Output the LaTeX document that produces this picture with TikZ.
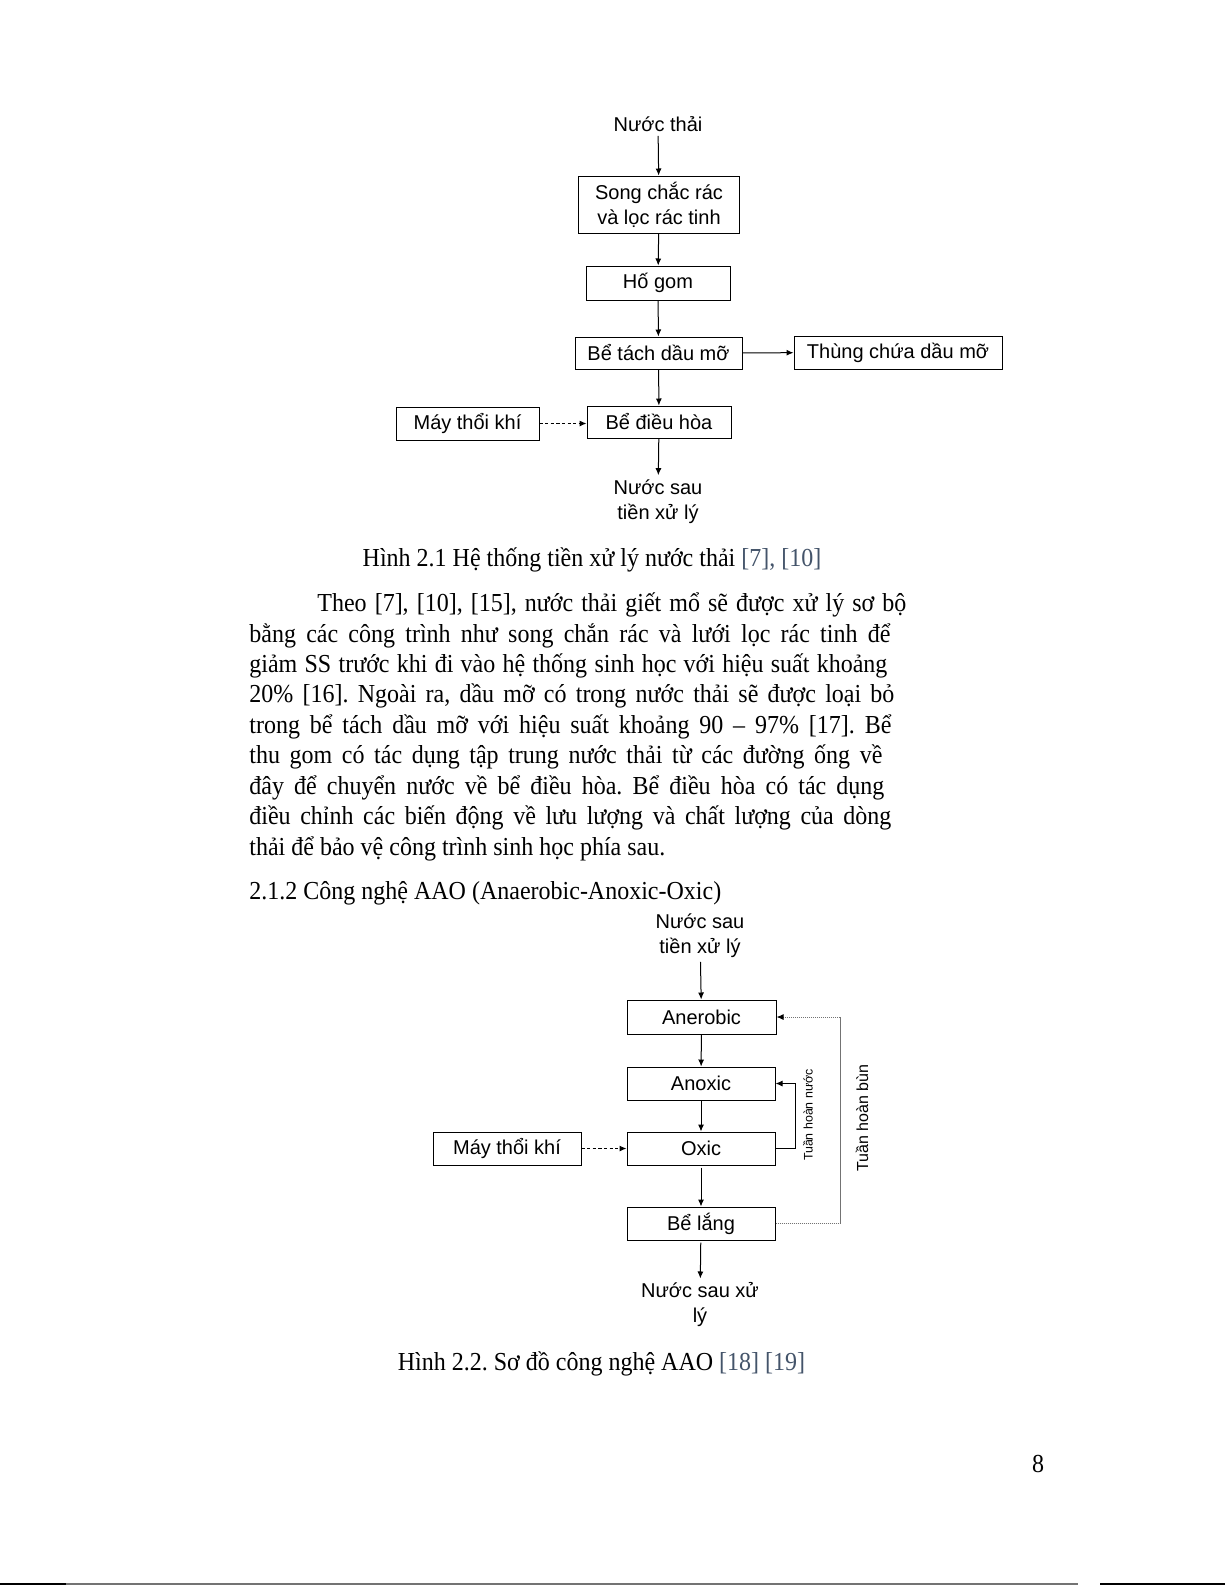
\documentclass[tikz,border=0pt]{standalone}
\usepackage{graphicx}
\usepackage{fontspec}
\setmainfont{Liberation Serif}
\newfontfamily\chartfont{Liberation Sans}
\usetikzlibrary{arrows.meta,positioning}
\frenchspacing

\definecolor{citeblue}{RGB}{68,84,106}
\newcommand\pagefont{\fontsize{12pt}{14pt}\selectfont}
\newcommand\boxfont{\chartfont\fontsize{10pt}{12.5pt}\selectfont}
\newcommand\tallrow[1]{\scalebox{1}[1.08]{#1}}

\tikzset{
    stage/.style={draw, line width=0.5pt, inner sep=0pt, font=\boxfont, align=center},
    flowtext/.style={font=\boxfont, align=center, inner sep=2pt},
    flow/.style={-{Latex[length=3.5pt,width=3pt]}, line width=0.5pt},
    airflow/.style={flow, dash pattern=on 1.6pt off 1.2pt},
    sludge/.style={-{Latex[length=3.5pt,width=3pt,color=black]}, line width=0.5pt, black!55, dash pattern=on 0.6pt off 0.4pt},
    loopnote/.style={font=\chartfont\fontsize{#1}{#1}\selectfont, rotate=90, inner sep=0pt},
    pageline/.style={font=\pagefont, inner sep=0pt, anchor=west}
}

\begin{document}
\begin{tikzpicture}[x=0.5pt, y=-0.5pt]
    \useasboundingbox[fill=white] (0,0) rectangle (1225,1585);

    % Hinh 2.1: pre-treatment
    \node[flowtext] (raw) at (658,124) {Nước thải};
    \node[stage, minimum width=80.5pt, minimum height=28.5pt] (screen) at (659,204.5) {Song chắc rác\\và lọc rác tinh};
    \node[stage, minimum width=72pt, minimum height=17pt] (pit) at (658,283) {Hố gom};
    \node[stage, minimum width=83.5pt, minimum height=16pt] (grease) at (658.5,353) {Bể tách dầu mỡ};
    \node[stage, minimum width=104pt, minimum height=16.5pt] (drum) at (898,352.5) {Thùng chứa dầu mỡ};
    \node[stage, minimum width=72pt, minimum height=16pt] (equal) at (659,422) {Bể điều hòa};
    \node[stage, minimum width=71.5pt, minimum height=16.5pt] (blowA) at (467.5,423.5) {Máy thổi khí};
    \node[flowtext] (preout) at (658,501.5) {Nước sau\\tiền xử lý};

    \draw[flow] (raw) -- (screen);
    \draw[flow] (screen) -- (pit);
    \draw[flow] (pit) -- (grease);
    \draw[flow] (grease) -- (drum);
    \draw[flow] (grease) -- (equal);
    \draw[airflow] (blowA) -- (blowA -| equal.west);
    \draw[flow] (equal) -- (preout);

    \node[font=\pagefont, inner sep=0pt] (cap1) at (592,560)
        {\tallrow{Hình 2.1 Hệ thống tiền xử lý nước thải \textcolor{citeblue}{[7], [10]}}};

    % Paragraph, one justified line each
    \node[pageline] (par1) at (317,605) {\tallrow{\makebox[294.5pt][s]{Theo [7], [10], [15], nước thải giết mổ sẽ được xử lý sơ bộ}}};
    \foreach \y/\w/\txt in {
        636/320.5/{bằng các công trình như song chắn rác và lưới lọc rác tinh để},
        666/319/{giảm SS trước khi đi vào hệ thống sinh học với hiệu suất khoảng},
        696/322.5/{20\% [16]. Ngoài ra, dầu mỡ có trong nước thải sẽ được loại bỏ},
        727/321/{trong bể tách dầu mỡ với hiệu suất khoảng 90 – 97\% [17]. Bể},
        757/316.5/{thu gom có tác dụng tập trung nước thải từ các đường ống về},
        788/317.5/{đây để chuyển nước về bể điều hòa. Bể điều hòa có tác dụng},
        818/321/{điều chỉnh các biến động về lưu lượng và chất lượng của dòng}}
    {
        \node[pageline] at (249,\y) {\tallrow{\makebox[\w pt][s]{\txt}}};
    }
    \node[pageline] (par9) at (249,849) {\tallrow{thải để bảo vệ công trình sinh học phía sau.}};

    \node[pageline] (sec) at (249,893) {\tallrow{2.1.2 Công nghệ AAO (Anaerobic-Anoxic-Oxic)}};

    % Hinh 2.2: AAO
    \node[flowtext] (aaoin) at (700,935.5) {Nước sau\\tiền xử lý};
    \node[stage, minimum width=74.5pt, minimum height=17pt] (anaer) at (701.5,1017) {Anerobic};
    \node[stage, minimum width=74pt, minimum height=16.5pt] (anox) at (701,1083.5) {Anoxic};
    \node[stage, minimum width=74pt, minimum height=16.5pt] (oxic) at (701,1148.5) {Oxic};
    \node[stage, minimum width=74pt, minimum height=16.5pt] (blowB) at (507,1148.5) {Máy thổi khí};
    \node[stage, minimum width=74pt, minimum height=16.5pt] (settle) at (701,1223.5) {Bể lắng};
    \node[flowtext] (aaoout) at (700,1305) {Nước sau xử\\lý};

    \draw[flow] (aaoin) -- (anaer);
    \draw[flow] (anaer) -- (anox);
    \draw[flow] (anox) -- (oxic);
    \draw[airflow] (blowB) -- (oxic);
    \draw[flow, shorten <=1pt] (oxic) -- (settle);
    \draw[flow, shorten <=1pt] (settle) -- (aaoout);

    % Recycle loops
    \draw[flow] (oxic.east) -- ++(20,0) |- (anox.east);
    \draw[sludge] (settle.east) -- ++(65,0) |- (anaer.east);
    \node[loopnote=6.2pt] (waterloop) at (808,1115) {Tuần hoàn nước};
    \node[loopnote=8pt] (mudloop) at (862,1118) {Tuần hoàn bùn};

    \node[font=\pagefont, inner sep=0pt] (cap2) at (601.5,1364)
        {\tallrow{Hình 2.2. Sơ đồ công nghệ AAO \textcolor{citeblue}{[18] [19]}}};

    \node[font=\pagefont, inner sep=0pt] (pagenum) at (1038,1464) {\tallrow{8}};

    % Scan edge
    \draw[line width=1pt] (0,1584) -- (66,1584);
    \draw[line width=1pt, black!55] (66,1583.5) -- (1078,1583.5);
    \draw[line width=1pt] (1100,1584) -- (1225,1584);

\end{tikzpicture}
\end{document}
